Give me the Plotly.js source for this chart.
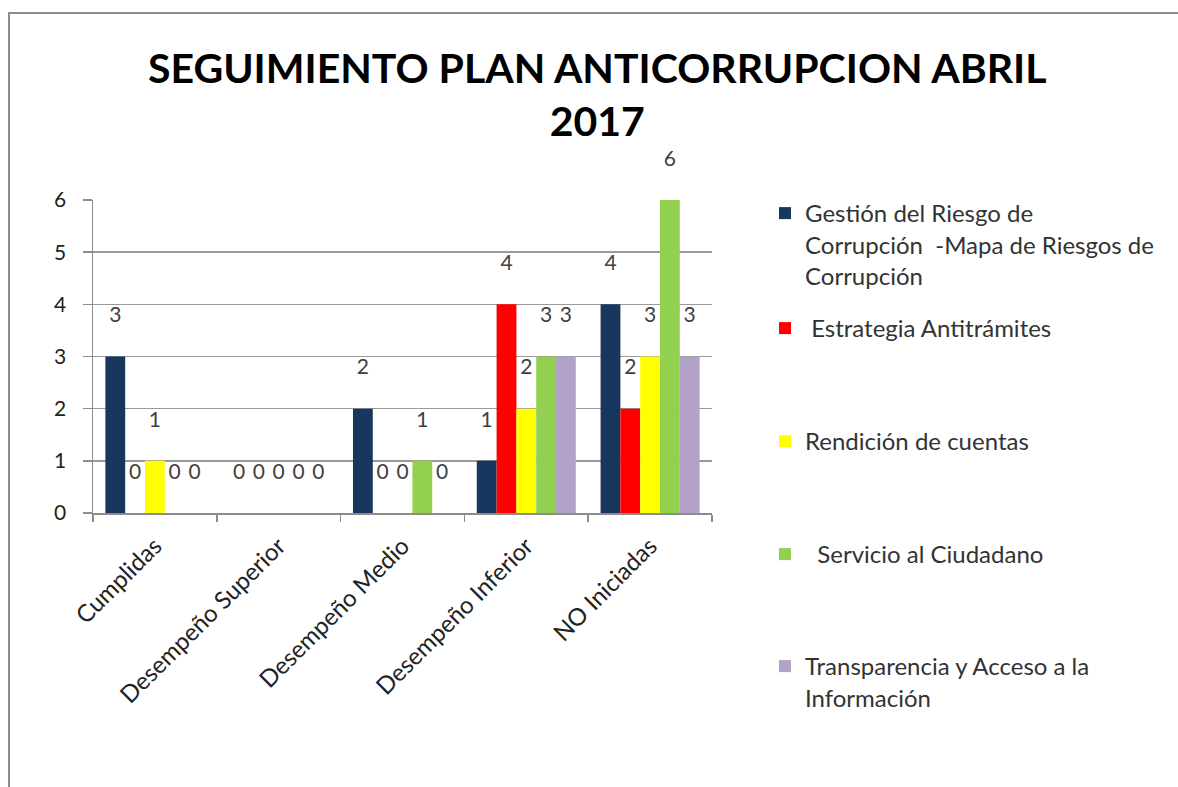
<!DOCTYPE html>
<html>
<head>
<meta charset="utf-8">
<script src="https://cdn.plot.ly/plotly-3.0.1.min.js"></script>
<style>
html,body{margin:0;padding:0;background:#fff;}
#wrap{position:relative;width:1178px;height:787px;}
#chart{position:absolute;left:0;top:0;width:1178px;height:787px;}
#frame{position:absolute;left:8px;top:12px;width:1170px;height:775px;border-top:2px solid #8c8c8c;border-left:2px solid #8c8c8c;pointer-events:none;}
</style>
</head>
<body>
<div id="wrap"><div id="chart"></div><div id="frame"></div></div>
<script>
const categories = ["Cumplidas", "Desempeño Superior", "Desempeño Medio", "Desempeño Inferior", "NO Iniciadas"];
const seriesNames = [
  "Gestión del Riesgo de<br>Corrupción  -Mapa de Riesgos de<br>Corrupción",
  " Estrategia Antitrámites",
  "Rendición de cuentas",
  "  Servicio al Ciudadano",
  "Transparencia y Acceso a la<br>Información"
];
const gestion = [3, 0, 2, 1, 4];
const antitramites = [0, 0, 0, 4, 2];
const rendicion = [1, 0, 0, 2, 3];
const servicio = [0, 0, 1, 3, 6];
const transparencia = [0, 0, 0, 3, 3];
const yTicks = [0, 1, 2, 3, 4, 5, 6];

const seriesValues = [gestion, antitramites, rendicion, servicio, transparencia];
const colors = ["#17375E", "#FF0000", "#FFFF00", "#92D050", "#B3A2C7"];
const legendIds = ["legend", "legend2", "legend3", "legend4", "legend5"];
const legendTopPx = [191, 306, 419, 532, 644];

// plot area in pixels
const L = 93, R = 712, T = 200, B = 513;
const W = 1178, H = 787;
const fontFam = "Lato, 'Open Sans', sans-serif";

const traces = seriesValues.map((vals, i) => ({
  type: "bar",
  name: seriesNames[i],
  x: categories,
  y: vals,
  marker: {color: colors[i]},
  text: vals.map(v => String(v)),
  texttemplate: "%{text}<br> ",
  textposition: "outside",
  cliponaxis: false,
  textfont: {family: fontFam, size: 21, color: "#404040"},
  legend: legendIds[i],
  hoverinfo: "x+y+name"
}));

const layout = {
  width: W, height: H,
  margin: {l: L, r: W - R, t: T, b: H - B, pad: 0},
  paper_bgcolor: "#ffffff",
  plot_bgcolor: "#ffffff",
  barmode: "group",
  bargap: 0.2,
  bargroupgap: 0,
  title: {
    text: "<b>SEGUIMIENTO PLAN ANTICORRUPCION ABRIL<br>2017</b>",
    font: {family: "Lato, sans-serif", size: 41, color: "#000"},
    x: 0.507, xanchor: "center",
    y: 0.895, yanchor: "top", yref: "container"
  },
  xaxis: {
    type: "category",
    tickangle: -45,
    tickson: "boundaries",
    ticks: "outside", ticklen: 7, tickcolor: "#8c8c8c", tickwidth: 1.5,
    showline: true, linecolor: "#8c8c8c", linewidth: 1.5,
    tickfont: {family: fontFam, size: 24, color: "#222"},
    ticklabelstandoff: 8,
    showgrid: false
  },
  yaxis: {
    range: [0, 6],
    tickvals: yTicks,
    ticktext: yTicks.map(String),
    ticks: "outside", ticklen: 9, tickcolor: "#8c8c8c", tickwidth: 1.5,
    showline: true, linecolor: "#8c8c8c", linewidth: 1.5,
    showgrid: true, gridcolor: "#9a9a9a", gridwidth: 1.5,
    zeroline: false,
    ticklabelstandoff: 12,
    tickfont: {family: fontFam, size: 21, color: "#222"}
  },
  showlegend: true
};

legendIds.forEach((id, i) => {
  layout[id] = {
    x: (765 - L) / (R - L),
    xanchor: "left",
    y: (B - legendTopPx[i]) / (B - T),
    yanchor: "top",
    valign: "top",
    bgcolor: "rgba(0,0,0,0)",
    font: {family: fontFam, size: 24, color: "#333"},
    itemwidth: 30,
    tracegroupgap: 0
  };
});

Plotly.newPlot("chart", traces, layout, {displayModeBar: false, staticPlot: true});
</script>
</body>
</html>
